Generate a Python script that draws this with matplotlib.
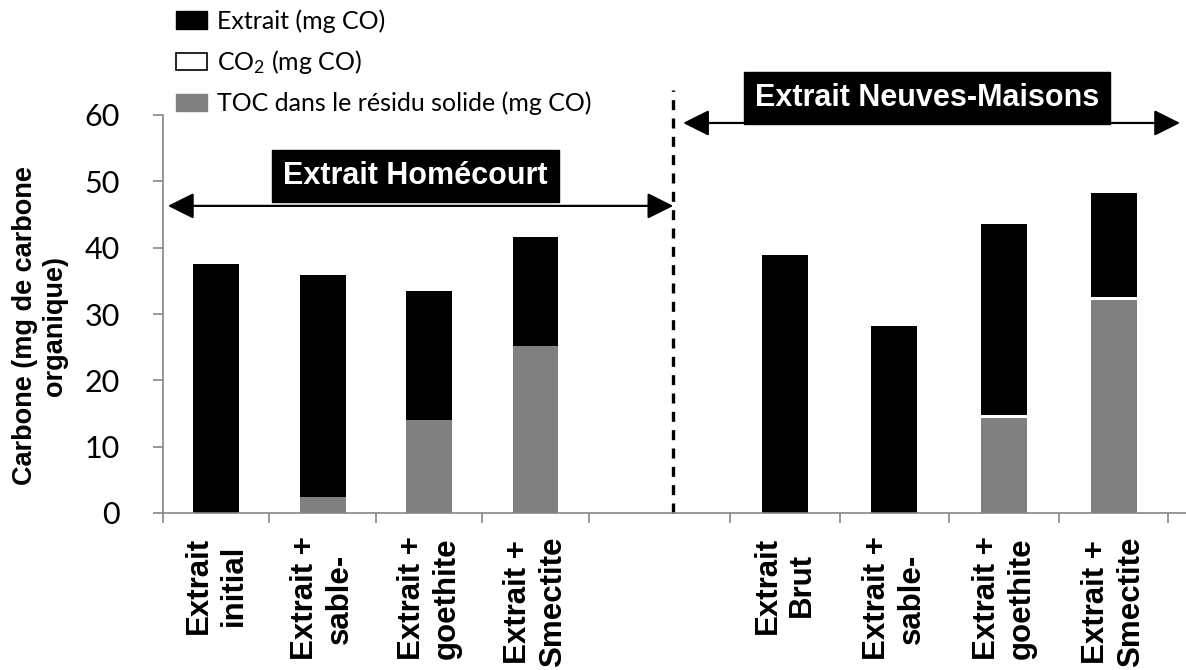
import numpy as np
import matplotlib
matplotlib.use('Agg')
import matplotlib.pyplot as plt
from matplotlib.patches import Patch, FancyArrowPatch

plt.rcParams['font.family'] = ['Lato', 'DejaVu Sans']
plt.rcParams['mathtext.fontset'] = 'custom'
plt.rcParams['mathtext.rm'] = 'Lato'

# --- data (mg de carbone organique) ---
labels_hom = ['Extrait\ninitial', 'Extrait +\nsable-', 'Extrait +\ngoethite', 'Extrait +\nSmectite']
labels_nm = ['Extrait\nBrut', 'Extrait +\nsable-', 'Extrait +\ngoethite', 'Extrait +\nSmectite']

toc_hom = [0.0, 2.4, 14.0, 25.2]
co2_hom = [0.0, 0.0, 0.0, 0.0]
extrait_hom = [37.6, 33.5, 19.5, 16.4]

toc_nm = [0.0, 0.0, 14.3, 32.1]
co2_nm = [0.0, 0.0, 0.45, 0.45]
extrait_nm = [38.9, 28.2, 28.85, 15.75]

W, H = 1186, 670
fig = plt.figure(figsize=(W / 100, H / 100), dpi=100)
ax = fig.add_axes([163 / W, (H - 513) / H, (W - 163) / W, (513 - 115) / H])

x_hom = np.arange(4)
x_nm = 5.34 + 1.03 * np.arange(4)
bw = 0.43

x = np.concatenate([x_hom, x_nm])
toc = np.array(toc_hom + toc_nm)
co2 = np.array(co2_hom + co2_nm)
ext = np.array(extrait_hom + extrait_nm)

ax.bar(x, toc, bw, color='#808080', linewidth=0)
ax.bar(x, co2, bw, bottom=toc, color='white', linewidth=0)
ax.bar(x, ext, bw, bottom=toc + co2, color='black', linewidth=0)

ax.set_xlim(-0.5, 9.11)
ax.set_ylim(0, 60)
ax.set_yticks(range(0, 61, 10))

bounds = list(np.arange(5) - 0.5) + list(x_nm - 0.515) + [x_nm[-1] + 0.515]
ax.set_xticks(bounds)
ax.set_xticklabels([])
ax.set_xticks(x, labels_hom + labels_nm, minor=True)
for t in ax.get_xticklabels(minor=True):
    t.set_rotation(90)
    t.set_fontfamily(['Liberation Sans', 'DejaVu Sans'])
    t.set_fontweight('bold')
    t.set_fontsize(22.5)
    t.set_va('top')
    t.set_ha('center')
    t.set_multialignment('center')

ax.tick_params(axis='x', which='major', direction='out', length=7, color='#868686', width=1.2)
ax.tick_params(axis='x', which='minor', length=0, pad=17)
ax.tick_params(axis='y', direction='out', length=7, color='#868686', width=1.2, labelsize=22, pad=24)

for s in ['top', 'right']:
    ax.spines[s].set_visible(False)
for s in ['left', 'bottom']:
    ax.spines[s].set_color('#868686')
    ax.spines[s].set_linewidth(1.2)

ax.set_ylabel('Carbone (mg de carbone\norganique)', fontsize=19.5, fontweight='bold',
              fontfamily=['Liberation Sans', 'DejaVu Sans'])
ax.yaxis.set_label_coords(-0.093, 0.47)

# separation between the two extracts
ax.plot([4.29, 4.29], [0, 63.8], color='black', lw=2.4, ls=(0, (3, 2.5)), clip_on=False)

# double arrows
for x0, x1, yy in [(-0.48, 4.32, 46.3), (4.36, 9.08, 58.8)]:
    arr = FancyArrowPatch((x0, yy), (x1, yy), arrowstyle='<|-|>,head_length=0.8,head_width=0.4',
                          mutation_scale=20, color='black', lw=1.6, clip_on=False)
    ax.add_patch(arr)

box_font = ['Liberation Sans Narrow', 'Liberation Sans', 'DejaVu Sans']
ax.text(1.87, 50.8, 'Extrait Homécourt', color='white', fontsize=22, fontweight='bold',
        fontfamily=box_font, ha='center', va='center',
        bbox=dict(boxstyle='square,pad=0.36', fc='black', ec='black'))
ax.text(6.68, 62.6, 'Extrait Neuves-Maisons', color='white', fontsize=22, fontweight='bold',
        fontfamily=box_font, ha='center', va='center', clip_on=False,
        bbox=dict(boxstyle='square,pad=0.36', fc='black', ec='black'))

handles = [Patch(fc='black', ec='black'),
           Patch(fc='white', ec='black', lw=1.2),
           Patch(fc='#808080', ec='#808080')]
leg_labels = ['Extrait (mg CO)', r'$\mathregular{CO_2}$ (mg CO)', 'TOC dans le résidu solide (mg CO)']
fig.legend(handles, leg_labels, loc='upper left', bbox_to_anchor=(176 / W, 1 - 9 / H),
           frameon=False, fontsize=18, handlelength=1.25, handleheight=0.7, handletextpad=0.4,
           labelspacing=0.62, borderaxespad=0, borderpad=0)

fig.savefig('out.png', dpi=100)
